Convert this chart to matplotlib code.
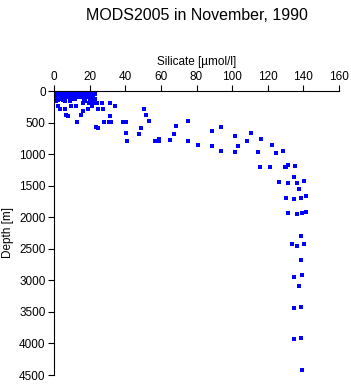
import matplotlib
matplotlib.use("Agg")
import matplotlib.pyplot as plt

# --- data (silicate [umol/l], depth [m]) ---
shallow_depths = [0, 10, 20, 30, 40, 50, 60, 75, 90, 100, 125, 150]
shallow_silicate = [
    [0.5, 1, 2, 3, 4, 5, 6, 7, 8, 9, 10, 11, 12, 13, 14, 15, 16, 17, 18, 20, 21, 22],
    [0.5, 2, 3, 5, 6, 8, 9, 11, 12, 14, 15, 16, 19, 21],
    [1, 2, 4, 5, 7, 9, 10, 12, 13, 15, 16, 18, 22],
    [0.8, 3, 4, 6, 8, 10, 13, 14, 16, 17, 20, 22],
    [1.5, 2.5, 4.5, 7, 9.5, 11, 12.5, 15, 17, 19, 21, 23],
    [1, 2, 3, 5, 6, 8, 11, 12, 14, 15, 18, 21, 23],
    [0.5, 3.5, 5.5, 8.5, 10.5, 13.5, 16, 18.5, 20.5],
    [0.8, 2, 4, 6, 7, 9, 10, 13, 16, 17, 19, 22],
    [1.5, 3, 5, 8, 12, 15, 17.5, 21],
    [1, 2, 4, 5, 7, 9, 11, 14, 15, 19, 22],
    [0.5, 3, 6, 10, 12, 17, 20, 23],
    [1, 2, 5, 9, 17, 21, 23],
]

mid_silicate = [6.2, 9.0, 17.5, 1.1, 2.4, 3.4, 6.2, 6.6, 8.1, 9.4, 12.4, 13.1, 15.2,
                16.0, 19.3, 21.2, 24.6, 27.3, 23.7, 24.6, 28.2, 30.6, 32.1, 31.2,
                34.5, 31.2, 22.1, 24.4, 27.2, 16.5, 19.7, 38.7, 40.6, 40.4, 41.0,
                50.5, 51.5, 53.5, 47.5, 49.0, 56.9, 59.2, 59.2, 65.4, 67.2, 68.4,
                75.3, 75.3, 80.6, 88.6, 88.6, 93.5, 93.8, 101.6, 101.6, 103.5,
                108.4, 110.6, 114.5, 115.7, 116.4, 121.5, 122.4, 124.7, 128.6,
                129.6, 130.3, 131.3, 135.4, 134.5, 126.4, 131.5, 136.5, 140.5,
                137.6, 130.3, 134.5, 138.6, 141.6, 131.5, 136.5, 139.5, 141.4,
                138.6, 133.7, 136.5, 140.5, 138.6, 134.5, 139.5, 137.6, 134.5,
                138.9, 134.5, 138.6, 139.3]
mid_depth = [158, 158, 158, 158, 233, 290, 290, 386, 391, 238, 238, 486, 380,
             317, 290, 238, 290, 290, 570, 591, 491, 491, 491, 396,
             232, 195, 195, 195, 195, 195, 195, 491, 491, 670, 792,
             290, 386, 481, 686, 591, 792, 792, 765, 781, 681, 560,
             481, 792, 861, 639, 877, 576, 951, 718, 972, 877,
             797, 671, 972, 1199, 766, 1209, 856, 983, 946,
             1209, 1199, 1167, 1183, 1358, 1447, 1463, 1452, 1426,
             1553, 1690, 1711, 1700, 1669, 1937, 1953, 1933, 1912,
             2302, 2429, 2450, 2429, 2683, 2947, 2921, 3095, 3443,
             3417, 3934, 3918, 4416]

x_ticks = [0, 20, 40, 60, 80, 100, 120, 140, 160]
y_ticks = [0, 500, 1000, 1500, 2000, 2500, 3000, 3500, 4000, 4500]

silicate = []
depth = []
for d, xs in zip(shallow_depths, shallow_silicate):
    silicate.extend(xs)
    depth.extend([d] * len(xs))
silicate.extend(mid_silicate)
depth.extend(mid_depth)

plt.rcParams['font.family'] = ['Liberation Sans', 'DejaVu Sans']

fig = plt.figure(figsize=(3.51, 3.84), dpi=100)
ax = fig.add_axes([54 / 351, 1 - 375 / 384, (339 - 54) / 351, (375 - 91) / 384])

ax.plot(silicate, depth, linestyle='none', marker='s', markersize=2.3,
        markeredgewidth=0, color='#0000ff', antialiased=False)

ax.set_xlim(0, 160)
ax.set_ylim(4500, 0)
ax.set_xticks(x_ticks)
ax.set_yticks(y_ticks)

ax.xaxis.set_ticks_position('top')
ax.xaxis.set_label_position('top')
for s in ['right', 'bottom']:
    ax.spines[s].set_visible(False)
for s in ['left', 'top']:
    ax.spines[s].set_linewidth(0.8)
ax.tick_params(direction='out', length=4, width=0.8, labelsize=8.5, pad=2)

ax.set_xlabel('Silicate [µmol/l]', fontsize=8.5, labelpad=4)
ax.set_ylabel('Depth [m]', fontsize=8.5, labelpad=4)

fig.text(196.5 / 351, 1 - 15 / 384, 'MODS2005 in November, 1990', ha='center', va='center',
         fontsize=11.5)

fig.savefig('out.png', dpi=100)
